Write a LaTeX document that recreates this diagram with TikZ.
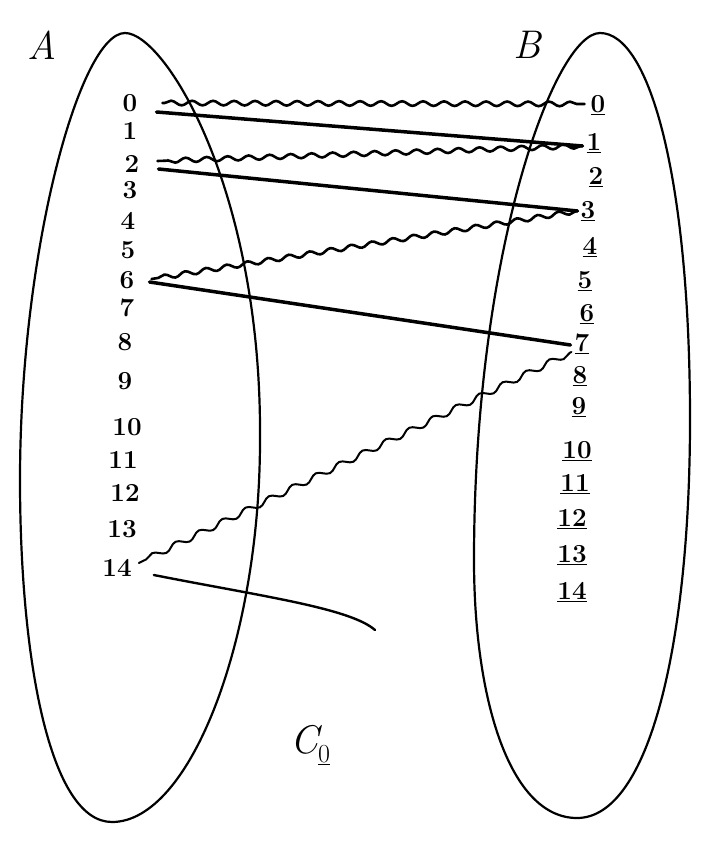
\documentclass[tikz,border=0pt]{standalone}
\usepackage{fontspec}
\usetikzlibrary{decorations.pathmorphing,calc}
\begin{document}
\begin{tikzpicture}[x=1pt,y=-1pt,
  lbl/.style={font=\fontsize{26}{28}\selectfont\bfseries, inner sep=1pt},
  rlbl/.style={lbl},
  big/.style={font=\fontsize{40}{42}\selectfont\itshape, inner sep=1pt},
  heavy/.style={line width=3.5pt, line cap=round},
  light/.style={line width=2.4pt, line cap=round},
  wavy/.style={line width=2.6pt, line cap=round, decorate, decoration={snake, amplitude=2.3pt, segment length=21pt, pre length=2pt, post length=2pt}},
  wavythin/.style={line width=2pt, line cap=round, decorate, decoration={snake, amplitude=3pt, segment length=26pt, pre length=2pt, post length=2pt}},
  oval/.style={line width=2.2pt, line join=round}]
\useasboundingbox (0,0) rectangle (714,848);
% ovals
\draw[oval] (125,33) .. controls (165,33) and (262,190) .. (260,440)
  .. controls (260,640) and (190,822) .. (112,822)
  .. controls (50,822) and (20,660) .. (20,480)
  .. controls (20,250) and (80,33) .. cycle;
\draw[oval] (600,33) .. controls (650,33) and (690,180) .. (690,420)
  .. controls (690,640) and (650,818) .. (577,818)
  .. controls (510,818) and (474,700) .. (474,560)
  .. controls (474,250) and (555,33) .. cycle;
% set names
\node[big] (A) at (42,45) {A};
\node[big] (B) at (527,45) {B};
\node[big] (C) at (310,745) {C\raisebox{-9pt}{\fontsize{26}{28}\selectfont\upshape\underline{0}}};
% left labels
\node[lbl] (L0) at (130,103) {0};
\node[lbl] (L1) at (130,131) {1};
\node[lbl] (L2) at (132,164) {2};
\node[lbl] (L3) at (130,190) {3};
\node[lbl] (L4) at (128,221) {4};
\node[lbl] (L5) at (128,250) {5};
\node[lbl] (L6) at (127,280) {6};
\node[lbl] (L7) at (127,308) {7};
\node[lbl] (L8) at (125,342) {8};
\node[lbl] (L9) at (125,381) {9};
\node[lbl] (L10) at (127,427) {10};
\node[lbl] (L11) at (123,460) {11};
\node[lbl] (L12) at (125,493) {12};
\node[lbl] (L13) at (122,529) {13};
\node[lbl] (L14) at (117,568) {14};
% right labels
\node[rlbl] (R0) at (598,105) {\underline{0}};
\node[rlbl] (R1) at (594,143) {\underline{1}};
\node[rlbl] (R2) at (596,177) {\underline{2}};
\node[rlbl] (R3) at (588,211) {\underline{3}};
\node[rlbl] (R4) at (590,247) {\underline{4}};
\node[rlbl] (R5) at (585,281) {\underline{5}};
\node[rlbl] (R6) at (587,314) {\underline{6}};
\node[rlbl] (R7) at (582,344) {\underline{7}};
\node[rlbl] (R8) at (580,376) {\underline{8}};
\node[rlbl] (R9) at (579,407) {\underline{9}};
\node[rlbl] (R10) at (577,451) {\underline{10}};
\node[rlbl] (R11) at (575,484) {\underline{11}};
\node[rlbl] (R12) at (572,519) {\underline{12}};
\node[rlbl] (R13) at (572,555) {\underline{13}};
\node[rlbl] (R14) at (572,592) {\underline{14}};
% connectors
\draw[wavy] ($(L0.east)+(24,0)$) -- ($(R0.west)+(-5,-1)$);
\draw[heavy] ($(L0.east)+(18,9)$) -- ($(R1.west)+(-3,3)$);
\draw[wavy] ($(R1.west)+(-3,3)$) -- ($(L2.east)+(17,-3)$);
\draw[heavy] ($(L2.east)+(18,5)$) -- ($(R3.west)+(-2,0)$);
\draw[wavy] ($(R3.west)+(-2,0)$) -- ($(L6.east)+(16,-1)$);
\draw[heavy] ($(L6.east)+(14,2)$) -- ($(R7.west)+(-3,1)$);
\draw[wavythin] ($(R7.west)+(-2,8)$) -- ($(L14.east)+(6,-5)$);
\coordinate (end) at (375,630);
\draw[light] ($(L14.east)+(21,7)$) .. controls (260,596) and (350,608) .. (end);
\end{tikzpicture}
\end{document}
